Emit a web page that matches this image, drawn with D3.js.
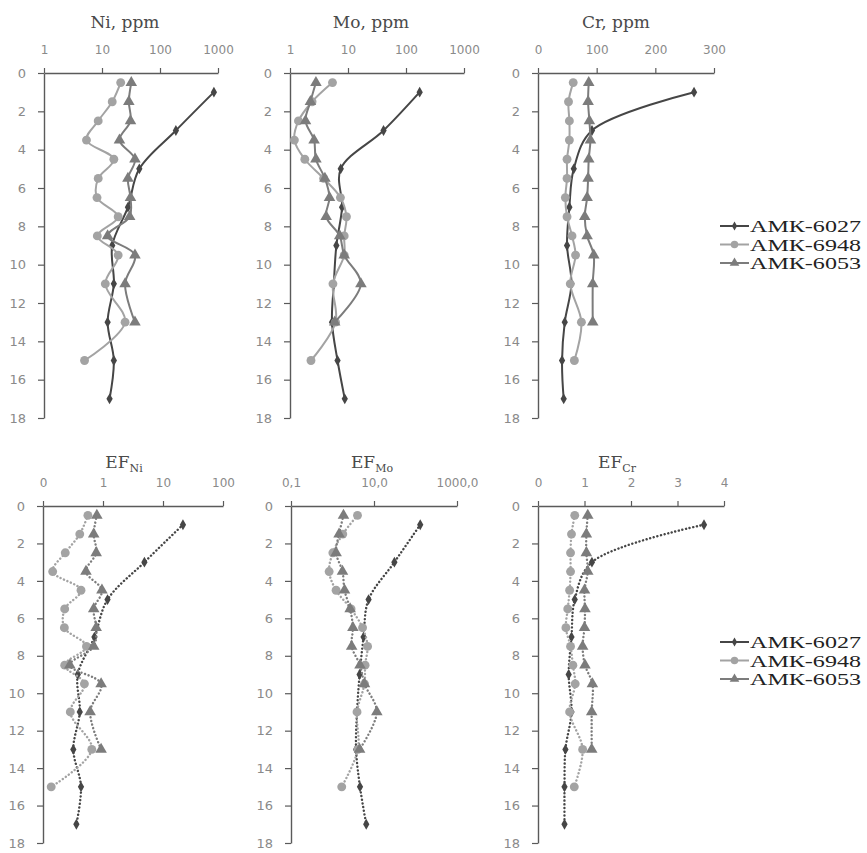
<!DOCTYPE html>
<html>
<head>
<meta charset="utf-8">
<script src="https://cdn.jsdelivr.net/npm/d3@7"></script>
<style>
  body { margin: 0; background: #fff; }
  svg { display: block; }
</style>
</head>
<body>
<div id="chart"></div>
<script>
// sampling depths (cm) of each core
const depth6027 = [1, 3, 5, 7, 9, 11, 13, 15, 17];
const depth6948 = [0.5, 1.5, 2.5, 3.5, 4.5, 5.5, 6.5, 7.5, 8.5, 9.5, 11, 13, 15];
const depth6053 = [0.5, 1.5, 2.5, 3.5, 4.5, 5.5, 6.5, 7.5, 8.5, 9.5, 11, 13];

const cores = ["АМК-6027", "АМК-6948", "АМК-6053"];

// concentrations, ppm
const ni6027 = [850, 188, 44, 28, 15, 16, 12.5, 16, 13.5];
const ni6948 = [21, 15, 8.6, 5.4, 16, 8.6, 8.2, 19, 8.3, 19, 11.4, 25, 5];
const ni6053 = [32, 29, 31, 20, 37, 28, 31, 30, 12.5, 37, 25, 37];

const mo6027 = [172, 41, 7.5, 7.9, 6.3, 5.7, 5.3, 6.6, 8.8];
const mo6948 = [5.4, 2.4, 1.4, 1.19, 1.8, 3.8, 7.4, 9.4, 8.6, 8.6, 5.5, 6.1, 2.3];
const mo6053 = [2.8, 2.25, 1.85, 2.6, 2.8, 4.0, 4.8, 4.2, 7.2, 8.6, 16.7, 5.9];

const cr6027 = [266, 92, 61, 53.5, 49.5, 57, 45.6, 41, 43.8];
const cr6948 = [60, 52, 53.5, 53.5, 49.5, 49.5, 46.6, 49.5, 58, 64, 55, 74, 62];
const cr6053 = [86.5, 85.4, 87.6, 89.4, 86.5, 85.4, 83.7, 79.7, 83.7, 95, 93.3, 93.3];

// enrichment factors
const efNi6027 = [21.5, 4.9, 1.19, 0.72, 0.38, 0.41, 0.32, 0.43, 0.36];
const efNi6948 = [0.56, 0.41, 0.235, 0.145, 0.43, 0.23, 0.227, 0.53, 0.23, 0.49, 0.285, 0.65, 0.137];
const efNi6053 = [0.79, 0.7, 0.77, 0.52, 0.96, 0.7, 0.77, 0.7, 0.28, 0.93, 0.61, 0.93];

const efMo6027 = [130, 31, 7.4, 5.6, 4.5, 3.9, 3.7, 4.6, 6.5];
const efMo6948 = [4.0, 1.77, 1.02, 0.83, 1.22, 2.8, 5.3, 7.0, 6.1, 5.9, 3.9, 4.1, 1.67];
const efMo6053 = [1.84, 1.44, 1.22, 1.74, 1.95, 2.66, 3.1, 2.9, 4.6, 5.9, 11.7, 4.5];

const efCr6027 = [3.57, 1.16, 0.79, 0.72, 0.66, 0.72, 0.59, 0.57, 0.57];
const efCr6948 = [0.79, 0.72, 0.7, 0.7, 0.68, 0.64, 0.6, 0.7, 0.75, 0.8, 0.68, 0.96, 0.78];
const efCr6053 = [1.07, 1.04, 1.04, 1.07, 1.0, 1.01, 1.0, 0.96, 1.01, 1.17, 1.155, 1.155];

// axis ticks and their labels
const depthTicks = [0, 2, 4, 6, 8, 10, 12, 14, 16, 18];
const ppmLogTicks = [1, 10, 100, 1000];
const crTicks = [0, 100, 200, 300];
const efNiTicks = [0.1, 1, 10, 100];
const efNiLabels = ["0", "1", "10", "100"];
const efMoTicks = [0.1, 10, 1000];
const efMoLabels = ["0,1", "10,0", "1000,0"];
const efCrTicks = [0, 1, 2, 3, 4];

const width = 867, height = 853;
const colors = ["#464646", "#a3a3a3", "#7c7c7c"];
const symbols = [d3.symbolDiamond, d3.symbolCircle, d3.symbolTriangle];
const symbolSizes = [34, 62, 58];
const depths = [depth6027, depth6948, depth6053];

const rows = [
  { y0: 73, y1: 418, titleY: 28, dotted: false, legendY: 226 },
  { y0: 506, y1: 843, titleY: 468, dotted: true, legendY: 642 }
];

const panels = [
  { row: 0, x0: 44, x1: 218, tx: 125, title: "Ni, ppm", log: true, domain: [1, 1000],
    ticks: ppmLogTicks, labels: ppmLogTicks.map(String), series: [ni6027, ni6948, ni6053] },
  { row: 0, x0: 290, x1: 464, tx: 371, title: "Mo, ppm", log: true, domain: [1, 1000],
    ticks: ppmLogTicks, labels: ppmLogTicks.map(String), series: [mo6027, mo6948, mo6053] },
  { row: 0, x0: 538, x1: 714, tx: 616, title: "Cr, ppm", log: false, domain: [0, 300],
    ticks: crTicks, labels: crTicks.map(String), series: [cr6027, cr6948, cr6053] },
  { row: 1, x0: 43, x1: 223, tx: 124, title: "EF", sub: "Ni", log: true, domain: [0.1, 100],
    ticks: efNiTicks, labels: efNiLabels, series: [efNi6027, efNi6948, efNi6053] },
  { row: 1, x0: 291, x1: 457, tx: 372, title: "EF", sub: "Mo", log: true, domain: [0.1, 1000],
    ticks: efMoTicks, labels: efMoLabels, series: [efMo6027, efMo6948, efMo6053] },
  { row: 1, x0: 538, x1: 724, tx: 617, title: "EF", sub: "Cr", log: false, domain: [0, 4],
    ticks: efCrTicks, labels: efCrTicks.map(String), series: [efCr6027, efCr6948, efCr6053] }
];

const svg = d3.select("#chart").append("svg")
  .attr("width", width)
  .attr("height", height);

const axisColor = "#5a5a5a";
const tickTextColor = "#8a8a8a";

panels.forEach((p) => {
  const row = rows[p.row];
  const x = (p.log ? d3.scaleLog() : d3.scaleLinear())
    .domain(p.domain)
    .range([p.x0, p.x1]);
  const y = d3.scaleLinear().domain([0, 18]).range([row.y0, row.y1]);

  const g = svg.append("g");

  // title above the top axis
  const title = g.append("text")
    .attr("x", p.tx)
    .attr("y", row.titleY)
    .attr("text-anchor", "middle")
    .style("font-family", "'DejaVu Serif', serif")
    .style("font-size", "17px")
    .style("fill", "#4a4a4a")
    .text(p.title);
  if (p.sub) {
    title.append("tspan")
      .attr("dy", 4)
      .style("font-size", "11px")
      .text(p.sub);
  }

  // value axis on top
  const xAxis = d3.axisTop(x)
    .tickValues(p.ticks)
    .tickFormat((d, i) => p.labels[i])
    .tickSize(5)
    .tickSizeOuter(0)
    .tickPadding(14);
  const xg = g.append("g")
    .attr("transform", "translate(0," + row.y0 + ")")
    .call(xAxis);

  // depth axis on the left
  const yAxis = d3.axisLeft(y)
    .tickValues(depthTicks)
    .tickSize(6)
    .tickSizeOuter(0)
    .tickPadding(12);
  const yg = g.append("g")
    .attr("transform", "translate(" + p.x0 + ",0)")
    .call(yAxis);

  [xg, yg].forEach((a) => {
    a.select(".domain").attr("stroke", axisColor).attr("stroke-width", 1.4);
    a.selectAll(".tick line").attr("stroke", axisColor).attr("stroke-width", 1.2);
    a.selectAll(".tick text")
      .style("font-family", "'DejaVu Sans', Verdana, sans-serif")
      .style("fill", tickTextColor);
  });
  xg.selectAll(".tick text").style("font-size", "12px");
  yg.selectAll(".tick text").style("font-size", "13px");

  // one profile per core
  const line = d3.line()
    .x((d) => x(d[1]))
    .y((d) => y(d[0]))
    .curve(d3.curveCatmullRom.alpha(0.5));

  p.series.forEach((vals, k) => {
    const pts = vals.map((v, i) => [depths[k][i], v]);
    g.append("path")
      .datum(pts)
      .attr("fill", "none")
      .attr("stroke", colors[k])
      .attr("stroke-width", row.dotted ? 2.4 : 2)
      .attr("stroke-linecap", row.dotted ? "round" : "butt")
      .attr("stroke-dasharray", row.dotted ? "0.1 3.6" : null)
      .attr("d", line);

    g.append("g")
      .selectAll("path")
      .data(pts)
      .join("path")
      .attr("transform", (d) => "translate(" + x(d[1]) + "," + y(d[0]) + ")")
      .attr("d", d3.symbol().type(symbols[k]).size(symbolSizes[k]))
      .attr("fill", colors[k]);
  });
});

// legends to the right of each row
rows.forEach((row) => {
  const lg = svg.append("g");
  cores.forEach((name, k) => {
    const ly = row.legendY + k * 18.5;
    lg.append("line")
      .attr("x1", 720).attr("x2", 749)
      .attr("y1", ly).attr("y2", ly)
      .attr("stroke", colors[k])
      .attr("stroke-width", 2);
    lg.append("path")
      .attr("transform", "translate(734.5," + ly + ")")
      .attr("d", d3.symbol().type(symbols[k]).size(symbolSizes[k] * 0.7))
      .attr("fill", colors[k]);
    lg.append("text")
      .attr("x", 750)
      .attr("y", ly + 6)
      .attr("textLength", 111)
      .attr("lengthAdjust", "spacingAndGlyphs")
      .style("font-family", "'Liberation Serif', 'Times New Roman', serif")
      .style("font-size", "17.5px")
      .style("fill", "#222")
      .text(name);
  });
});
</script>
</body>
</html>
